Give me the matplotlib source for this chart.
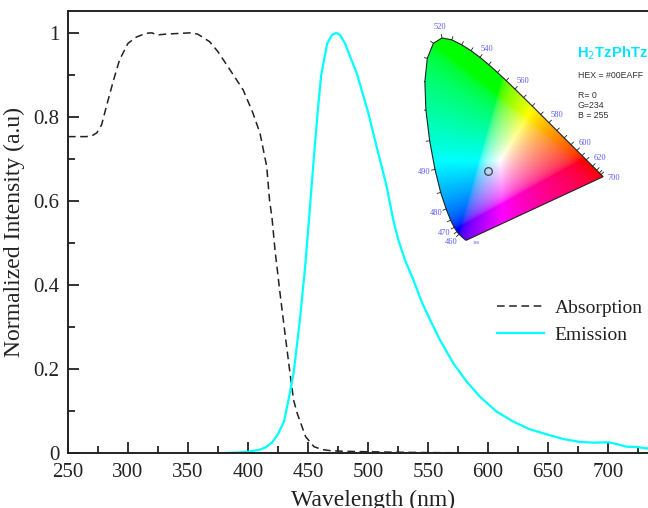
import numpy as np
import matplotlib
matplotlib.use("Agg")
import matplotlib.pyplot as plt
from matplotlib.path import Path
from matplotlib.patches import PathPatch
from matplotlib.ticker import MultipleLocator

# ---------------- data ----------------
abs_wl = [250, 265, 270, 274, 278, 282, 288, 293, 300, 307, 315, 320, 324, 332,
          345, 352, 358, 362, 368, 375, 385, 396, 404, 410, 415.6, 418, 420,
          422.5, 426.7, 430.8, 435, 438, 441, 448, 455, 462, 469, 480, 500, 520,
          550, 575, 596]
abs_val = [0.753, 0.753, 0.755, 0.762, 0.781, 0.825, 0.888, 0.936, 0.975, 0.99,
           0.999, 1.0, 0.995, 0.997, 0.999, 1.0, 0.997, 0.99, 0.979, 0.955, 0.912,
           0.864, 0.81, 0.761, 0.682, 0.60, 0.56, 0.483, 0.38, 0.285, 0.19, 0.126,
           0.0945, 0.039, 0.015, 0.008, 0.0055, 0.004, 0.003, 0.002, 0.001, 0.0005, 0.0]

em_wl = [380, 390, 400, 410, 415, 420, 425, 430, 434, 438, 443, 447.5, 451.5,
         454.5, 458, 461, 466, 470, 473.5, 476.7, 480.8, 485, 490.6, 500.3, 507.2,
         515.6, 521, 525.3, 530.8, 537.8, 544.7, 551.7, 560, 571.1, 582.2, 593.3,
         607.2, 621.1, 635, 648.9, 662.8, 676.7, 687.8, 700.3, 707.2, 715.6, 723.9,
         732.2, 740]
em_val = [0.0, 0.001, 0.003, 0.008, 0.014, 0.025, 0.045, 0.075, 0.13, 0.19, 0.31,
          0.44, 0.58, 0.69, 0.81, 0.90, 0.975, 0.995, 1.0, 0.995, 0.975, 0.944,
          0.904, 0.809, 0.729, 0.634, 0.555, 0.507, 0.4595, 0.412, 0.360, 0.317,
          0.269, 0.2135, 0.170, 0.134, 0.0984, 0.0746, 0.0563, 0.0444, 0.0333,
          0.0262, 0.0246, 0.0254, 0.0214, 0.015, 0.0143, 0.011, 0.010]

series_labels = ["Absorption", "Emission"]
x_label = "Wavelength (nm)"
y_label = "Normalized Intensity (a.u)"

# CIE 1931 spectral locus (nm, x, y)
locus_nm = [380, 420, 430, 440, 450, 460, 465, 470, 475, 480, 485, 490, 495, 500,
            505, 510, 515, 520, 525, 530, 535, 540, 545, 550, 555, 560, 565, 570,
            575, 580, 585, 590, 595, 600, 605, 610, 620, 630, 640, 650, 700]
locus_x = [0.1741, 0.1714, 0.1689, 0.1644, 0.1566, 0.1440, 0.1355, 0.1241, 0.1096,
           0.0913, 0.0687, 0.0454, 0.0235, 0.0082, 0.0039, 0.0139, 0.0389, 0.0743,
           0.1142, 0.1547, 0.1929, 0.2296, 0.2658, 0.3016, 0.3373, 0.3731, 0.4087,
           0.4441, 0.4788, 0.5125, 0.5448, 0.5752, 0.6029, 0.6270, 0.6482, 0.6658,
           0.6915, 0.7079, 0.7190, 0.7260, 0.7347]
locus_y = [0.0050, 0.0051, 0.0069, 0.0109, 0.0177, 0.0297, 0.0399, 0.0578, 0.0868,
           0.1327, 0.2007, 0.2950, 0.4127, 0.5384, 0.6548, 0.7502, 0.8120, 0.8338,
           0.8262, 0.8059, 0.7816, 0.7543, 0.7243, 0.6923, 0.6589, 0.6245, 0.5896,
           0.5547, 0.5202, 0.4866, 0.4544, 0.4242, 0.3965, 0.3725, 0.3514, 0.3340,
           0.3083, 0.2920, 0.2809, 0.2740, 0.2653]
locus_labels = [460, 470, 480, 490, 520, 540, 560, 580, 600, 620]
point_xy = (0.262, 0.290)

# ---------------- figure ----------------
plt.rcParams['font.family'] = ['Liberation Serif', 'DejaVu Serif']
W, H = 648, 508
fig = plt.figure(figsize=(W / 100, H / 100), dpi=100)

ax_l, ax_b, ax_t = 68, 453, 11
ax = fig.add_axes([ax_l / W, (H - ax_b) / H, 588 / W, (ax_b - ax_t) / H])
ax.set_xlim(250, 740)
ax.set_ylim(0, 1.052)

ax.plot(abs_wl, abs_val, color='#222222', lw=1.1, ls=(0, (5, 3)), label=series_labels[0])
ax.plot(em_wl, em_val, color='#00FFFF', lw=1.6, label=series_labels[1])

ax.xaxis.set_major_locator(MultipleLocator(50))
ax.xaxis.set_minor_locator(MultipleLocator(25))
ax.yaxis.set_major_locator(MultipleLocator(0.2))
ax.yaxis.set_minor_locator(MultipleLocator(0.1))
ax.tick_params(which='both', direction='in', top=False, right=False, width=1.3,
               labelsize=15, colors='#222222')
ax.tick_params(which='major', length=8)
ax.tick_params(which='minor', length=5)
ax.tick_params(axis='x', which='major', pad=7)
ax.tick_params(axis='y', which='major', pad=6)
ax.set_yticks([0, 0.2, 0.4, 0.6, 0.8, 1.0])
ax.set_yticklabels(['0', '0.2', '0.4', '0.6', '0.8', '1'])
for s in ax.spines.values():
    s.set_linewidth(1.4)
    s.set_color('#222222')

ax.set_xlabel(x_label, fontsize=17, color='#222222')
ax.xaxis.set_label_coords((373 - ax_l) / 588, -0.083)
ax.set_ylabel(y_label, fontsize=17, labelpad=6, color='#222222')

leg = ax.legend(loc='upper left', bbox_to_anchor=(429 / 588, 0.347), frameon=False,
                fontsize=14, handlelength=2.4, handletextpad=0.55, labelspacing=0.45,
                borderaxespad=0.0, borderpad=0.0)
for t in leg.get_texts():
    t.set_color('#222222')

# ---------------- CIE inset ----------------
x0p, y0p, sc = 423.9, 241.4, 244.0
iax = fig.add_axes([x0p / W, (H - y0p) / H, sc * 0.8 / W, sc * 0.9 / H])
iax.set_xlim(0, 0.8)
iax.set_ylim(0, 0.9)
iax.axis('off')

n = 400
gx, gy = np.meshgrid(np.linspace(0, 0.8, n), np.linspace(0, 0.9, n))
gy_s = np.clip(gy, 1e-3, None)
X = gx / gy_s
Y = np.ones_like(gx)
Z = (1 - gx - gy) / gy_s
M = np.array([[3.2406, -1.5372, -0.4986],
              [-0.9689, 1.8758, 0.0415],
              [0.0557, -0.2040, 1.0570]])
rgb = np.einsum('ij,jkl->kli', M, np.stack([X, Y, Z]))
rgb = np.clip(rgb, 0, None)
rgb = rgb / np.clip(rgb.max(axis=2, keepdims=True), 1e-9, None)
rgb = np.where(rgb <= 0.0031308, 12.92 * rgb, 1.055 * rgb ** (1 / 2.4) - 0.055)
rgb = np.clip(rgb, 0, 1)

verts = list(zip(locus_x, locus_y)) + [(locus_x[0], locus_y[0])]
path = Path(verts, closed=True)
im = iax.imshow(rgb, origin='lower', extent=[0, 0.8, 0, 0.9], aspect='auto',
                interpolation='bilinear')
patch = PathPatch(path, facecolor='none', edgecolor='#222222', lw=0.8)
iax.add_patch(patch)
im.set_clip_path(patch)

# ticks along the locus
lx = np.array(locus_x)
ly = np.array(locus_y)
cx, cy = 0.33, 0.33
lab_col = '#5a5af5'
for i, nm in enumerate(locus_nm):
    if nm < 460 or nm == 700:
        continue
    i0, i1 = max(i - 1, 0), min(i + 1, len(lx) - 1)
    tx, ty = lx[i1] - lx[i0], ly[i1] - ly[i0]
    nx, ny = ty, -tx
    nrm = np.hypot(nx, ny)
    nx, ny = nx / nrm, ny / nrm
    if (lx[i] - cx) * nx + (ly[i] - cy) * ny < 0:
        nx, ny = -nx, -ny
    iax.plot([lx[i], lx[i] + 0.014 * nx], [ly[i], ly[i] + 0.014 * ny],
             color='#222222', lw=0.6)
    if nm in locus_labels:
        iax.text(lx[i] + 0.045 * nx, ly[i] + 0.045 * ny, str(nm), fontsize=6,
                 color=lab_col, ha='center', va='center')
iax.text(0.7347 + 0.045, 0.2653 - 0.005, "700", fontsize=6, color=lab_col,
         ha='center', va='center')
iax.text(0.215, -0.005, "380", fontsize=3.5, color=lab_col, ha='center',
         va='center', clip_on=False)
iax.plot([point_xy[0]], [point_xy[1]], 'o', ms=5.5, mfc='none', mec='#444444', mew=0.9)

# annotation text
def ftxt(px, py, s, **kw):
    fig.text(px / W, 1 - py / H, s, **kw)

ftxt(577, 53, r"H$_2$TzPhTz", fontsize=10.6, fontweight='bold', color='#00E5FF',
     family='Liberation Sans', va='center', ha='left')
ftxt(578, 75, "HEX = #00EAFF", fontsize=6.3, color='#333333',
     family='Liberation Sans', va='center', ha='left')
ftxt(578, 96, "R= 0", fontsize=6.3, color='#333333', family='Liberation Sans',
     va='center', ha='left')
ftxt(578, 105.5, "G=234", fontsize=6.3, color='#333333', family='Liberation Sans',
     va='center', ha='left')
ftxt(578, 115, "B = 255", fontsize=6.3, color='#333333', family='Liberation Sans',
     va='center', ha='left')

fig.savefig("out.png", dpi=100)
